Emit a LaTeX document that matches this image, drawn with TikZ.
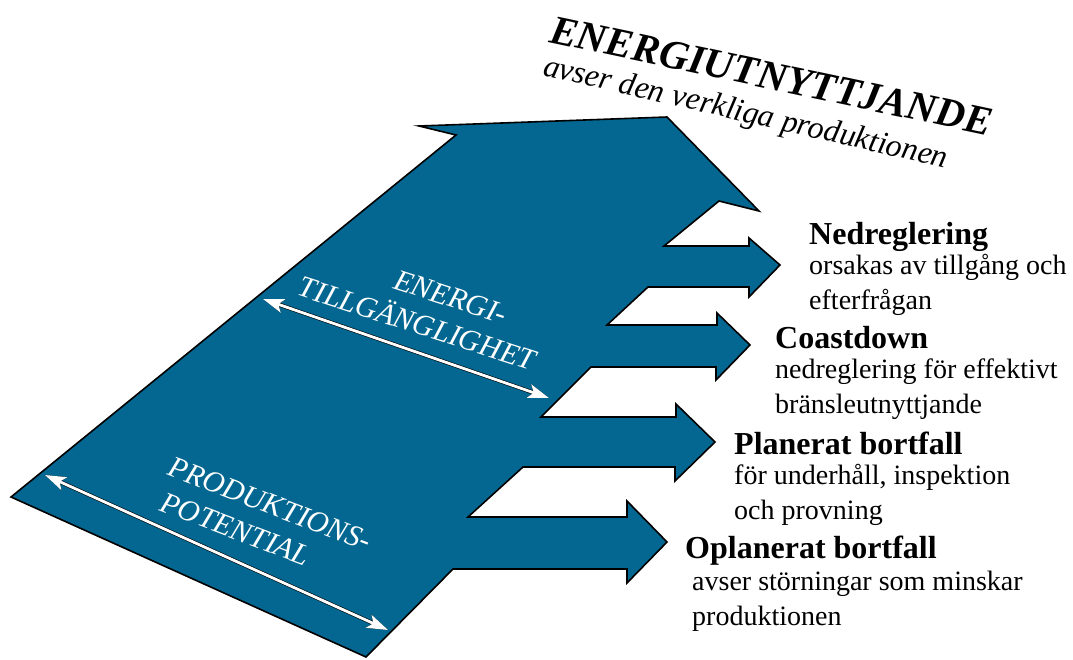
\documentclass[tikz,border=0pt]{standalone}
\usepackage{fontspec}
\setmainfont{Liberation Serif}
\usetikzlibrary{arrows.meta}
\definecolor{flowblue}{RGB}{3,103,145}
\tikzset{
  flow shape/.style={fill=flowblue,draw=black,line width=1.6pt,line join=miter},
  span arrow/.style={white,line width=2.8pt,{Stealth[length=21pt,width=14pt,inset=5pt]}-{Stealth[length=21pt,width=14pt,inset=5pt]},preaction={draw=black,line width=4pt}},
  inner label/.style={white,font=\fontsize{30}{36}\selectfont\itshape,inner sep=0pt},
  title text/.style={font=\fontsize{41}{41}\selectfont\bfseries\itshape,inner sep=0pt,anchor=base west,rotate=-12},
  subtitle text/.style={font=\fontsize{32}{32}\selectfont\itshape,inner sep=0pt,anchor=base west,rotate=-13},
  loss text/.style={font=\fontsize{28}{35}\selectfont,align=left,inner sep=0pt,anchor=base west},
  >=Stealth,
}
\newcommand{\lossHead}[1]{{\fontsize{32}{32}\selectfont\bfseries #1}}
\begin{document}
\begin{tikzpicture}[x=1pt,y=-1pt]
\useasboundingbox (0,0) rectangle (1073,659);
\draw[flow shape] (11,497) -- (456,135) -- (419,126) -- (667,117) -- (759,211) -- (719,201)
  -- (664,246) -- (749,246) -- (749,238) -- (780,265) -- (749,297) -- (749,287) -- (648,287)
  -- (607,325) -- (717,325) -- (717,313) -- (750,345) -- (716,380) -- (716,367) -- (591,367)
  -- (541,417) -- (676,417) -- (676,404) -- (715,442) -- (675,481) -- (675,467) -- (523,467)
  -- (468,517) -- (627,517) -- (627,501) -- (667,542) -- (627,583) -- (627,569) -- (453,569)
  -- (366,657) -- cycle;
\coordinate (energy left) at (263,299);
\coordinate (energy right) at (549,398);
\coordinate (potential left) at (45,475);
\coordinate (potential right) at (388,630);
\draw[span arrow] (energy left) -- (energy right);
\draw[span arrow] (potential left) -- (potential right);
\node[inner label,align=center,rotate=-18,anchor=base] (energy label) at (414,333) {\hspace*{48pt}ENERGI-\\TILLGÄNGLIGHET};
\node[inner label,align=left,rotate=-21,anchor=base west] (potential label) at (153,508) {PRODUKTIONS-\\\hspace*{6pt}POTENTIAL};
\node[title text] (title) at (548,42) {ENERGIUTNYTTJANDE};
\node[subtitle text] (subtitle) at (542,75) {avser den verkliga produktionen};
\node[loss text] (nedreglering) at (809,309) {\lossHead{Nedreglering}\\[-5pt]orsakas av tillgång och\\efterfrågan};
\node[loss text] (coastdown) at (775,413) {\lossHead{Coastdown}\\[-5pt]nedreglering för effektivt\\bränsleutnyttjande};
\node[loss text] (planerat) at (734,519) {\lossHead{Planerat bortfall}\\[-5pt]för underhåll, inspektion\\och provning};
\node[loss text] (oplanerat) at (685,625) {\lossHead{Oplanerat bortfall}\\[-3pt]\hspace*{7pt}avser störningar som minskar\\\hspace*{7pt}produktionen};
\end{tikzpicture}
\end{document}
